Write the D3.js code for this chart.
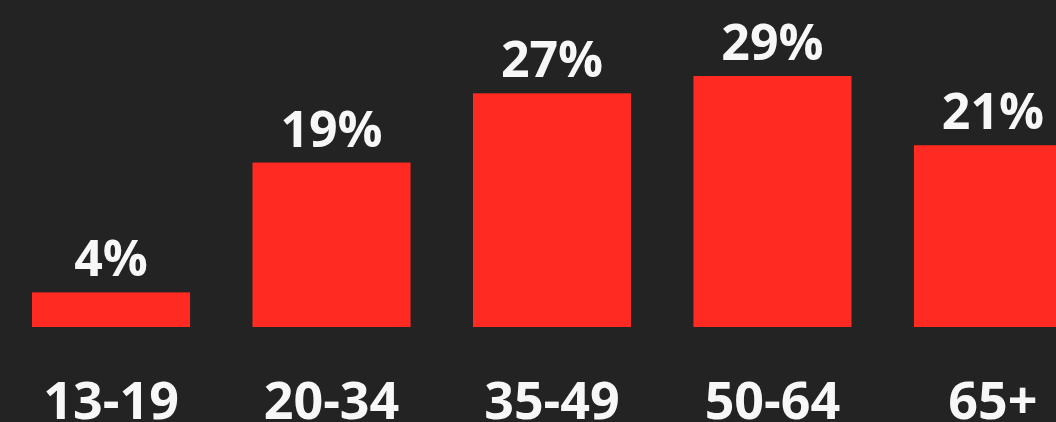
<!DOCTYPE html>
<html>
<head>
<meta charset="utf-8">
<script src="https://cdn.jsdelivr.net/npm/d3@7"></script>
<style>
  html, body { margin: 0; padding: 0; background: #232323; overflow: hidden; }
  svg { display: block; }
  text { font-family: "Open Sans", "Lato", sans-serif; font-weight: 700; fill: #f7f7f7; }
</style>
</head>
<body>
<svg id="chart" width="1056" height="422"></svg>
<script>
// Age groups and their share (%)
const categories = ["13-19", "20-34", "35-49", "50-64", "65+"];
const values = [4, 19, 27, 29, 21];

const width = 1056, height = 422;
const baseline = 327;

const svg = d3.select("#chart");
svg.append("rect").attr("width", width).attr("height", height).attr("fill", "#232323");

const x = d3.scaleBand()
  .domain(categories)
  .range([32, 1072])
  .paddingInner(0.283)
  .paddingOuter(0);

const y = d3.scaleLinear()
  .domain([0, 29])
  .range([baseline, 76]);

const data = categories.map((c, i) => ({ cat: c, val: values[i] }));

svg.selectAll("rect.bar")
  .data(data)
  .join("rect")
  .attr("class", "bar")
  .attr("x", d => x(d.cat))
  .attr("y", d => y(d.val))
  .attr("width", x.bandwidth())
  .attr("height", d => baseline - y(d.val))
  .attr("fill", "#ff2a22");

svg.selectAll("text.value")
  .data(data)
  .join("text")
  .attr("class", "value")
  .attr("x", d => x(d.cat) + x.bandwidth() / 2)
  .attr("y", d => y(d.val) - 16)
  .attr("text-anchor", "middle")
  .style("font-size", "50px")
  .text(d => d.val + "%");

svg.selectAll("text.cat")
  .data(data)
  .join("text")
  .attr("class", "cat")
  .attr("x", d => x(d.cat) + x.bandwidth() / 2)
  .attr("y", 419)
  .attr("text-anchor", "middle")
  .style("font-size", "52px")
  .text(d => d.cat);
</script>
</body>
</html>
